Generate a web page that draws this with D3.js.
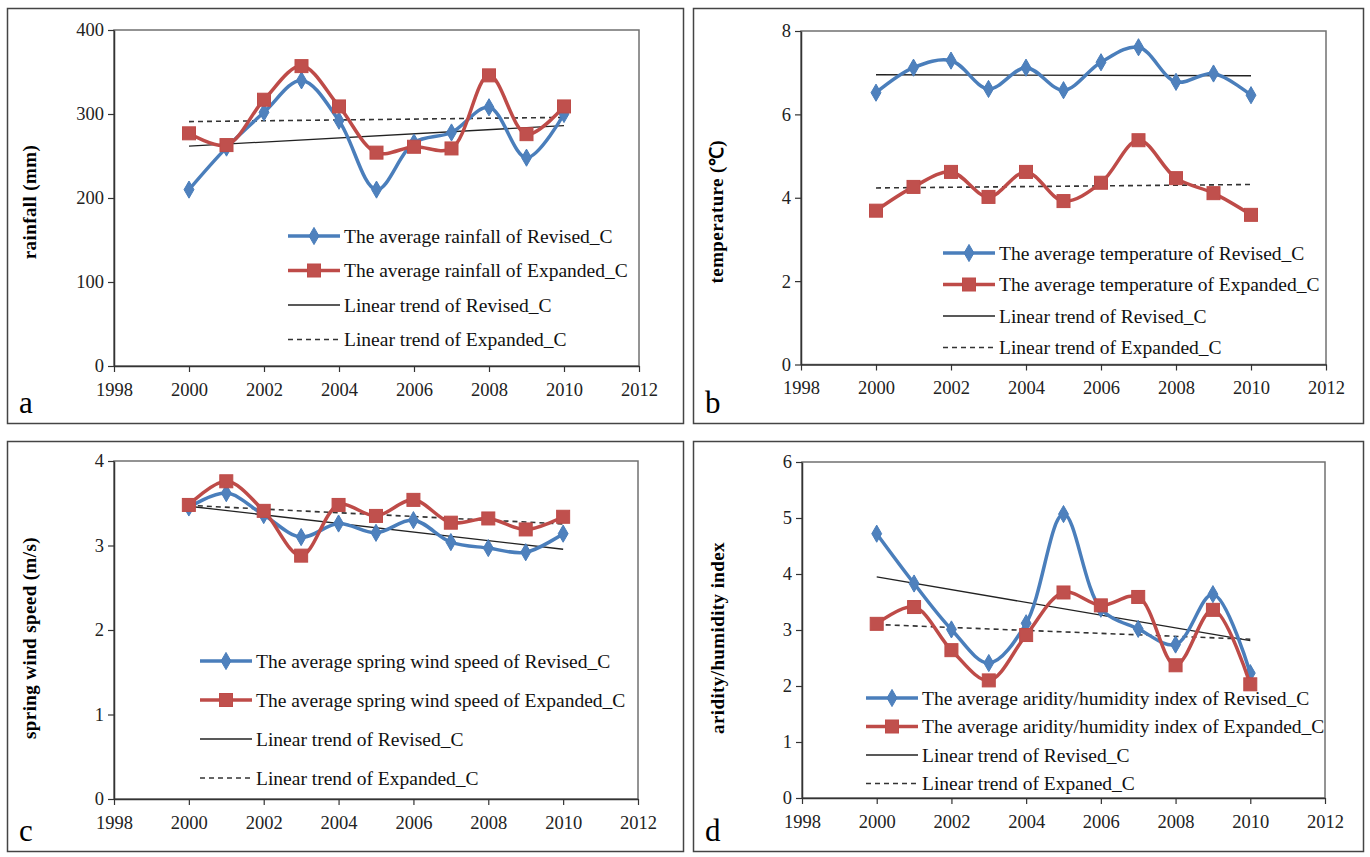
<!DOCTYPE html>
<html>
<head>
<meta charset="utf-8">
<script src="https://cdn.jsdelivr.net/npm/d3@7"></script>
<style>
  body { margin: 0; background: #fff; }
  svg, svg text { font-family: "Liberation Serif", "Times New Roman", serif; }
</style>
</head>
<body>
<script>
var years = [2000, 2001, 2002, 2003, 2004, 2005, 2006, 2007, 2008, 2009, 2010];
var xTicks = [1998, 2000, 2002, 2004, 2006, 2008, 2010, 2012];

// a - rainfall (mm)
var rainRevised  = [210, 260, 302, 340, 292, 210, 266, 278, 308, 248, 300];
var rainExpanded = [277, 263, 317, 357, 309, 254, 261, 259, 346, 276, 309];
// b - temperature
var tempRevised  = [6.52, 7.12, 7.29, 6.61, 7.12, 6.58, 7.25, 7.61, 6.78, 6.98, 6.46];
var tempExpanded = [3.69, 4.26, 4.62, 4.02, 4.62, 3.92, 4.36, 5.38, 4.47, 4.11, 3.59];
// c - spring wind speed
var windRevised  = [3.45, 3.62, 3.36, 3.10, 3.26, 3.15, 3.30, 3.04, 2.97, 2.92, 3.14];
var windExpanded = [3.48, 3.76, 3.41, 2.88, 3.48, 3.35, 3.54, 3.27, 3.32, 3.19, 3.34];
// d - aridity/humidity index
var aridRevised  = [4.72, 3.83, 3.01, 2.41, 3.12, 5.07, 3.38, 3.02, 2.74, 3.64, 2.23];
var aridExpanded = [3.11, 3.41, 2.64, 2.10, 2.91, 3.67, 3.44, 3.59, 2.37, 3.36, 2.03];

var blueLine = '#4a7ebb', blueFill = '#4f81bd';
var redLine = '#be4b48', redFill = '#c0504d';
var serif = '"Liberation Serif", "Times New Roman", serif';

var svg = d3.select('body').append('svg')
  .attr('width', 1370)
  .attr('height', 857);

var panels = [
  { tag: 'a', box: [7, 8, 683, 423], plot: [114, 30, 639, 366], yMax: 400, yStep: 100,
    yTitle: 'rainfall (mm)', titleDy: 4, rev: rainRevised, exp: rainExpanded,
    legend: { x: 288, y: 236, dy: 34.5 },
    names: ['The average rainfall of Revised_C', 'The average rainfall of Expanded_C',
            'Linear trend of Revised_C', 'Linear trend of Expanded_C'] },
  { tag: 'b', box: [693, 8, 1363, 423], plot: [801, 31, 1326, 364.5], yMax: 8, yStep: 2,
    yTitle: 'temperature (\u2103)', titleDy: 14, rev: tempRevised, exp: tempExpanded,
    legend: { x: 943, y: 253, dy: 31.5 },
    names: ['The average temperature of Revised_C', 'The average temperature of Expanded_C',
            'Linear trend of Revised_C', 'Linear trend of Expanded_C'] },
  { tag: 'c', box: [7, 441, 683, 851], plot: [114, 461, 638, 799], yMax: 4, yStep: 1,
    yTitle: 'spring wind speed (m/s)', titleDy: 8, rev: windRevised, exp: windExpanded,
    legend: { x: 200, y: 661, dy: 39 },
    names: ['The average spring wind speed of Revised_C', 'The average spring wind speed of Expanded_C',
            'Linear trend of Revised_C', 'Linear trend of Expanded_C'] },
  { tag: 'd', box: [693, 441, 1363, 851], plot: [802, 462, 1325, 798], yMax: 6, yStep: 1,
    yTitle: 'aridity/humidity index', titleDy: 8, rev: aridRevised, exp: aridExpanded,
    legend: { x: 866, y: 698, dy: 28.5 },
    names: ['The average aridity/humidity index of Revised_C', 'The average aridity/humidity index of Expanded_C',
            'Linear trend of Revised_C', 'Linear trend of Expaned_C'] }
];

// least squares fit, like the Excel trendline
var linearFit = function(xs, ys) {
  var mx = d3.mean(xs), my = d3.mean(ys);
  var sxy = d3.sum(xs, function(x, i) { return (x - mx) * (ys[i] - my); });
  var sxx = d3.sum(xs, function(x) { return (x - mx) * (x - mx); });
  var b = sxy / sxx;
  return function(x) { return my + b * (x - mx); };
};

var diamond = d3.symbol().type(d3.symbolDiamond).size(85);

var drawPanel = function(p) {
  var g = svg.append('g');
  g.append('rect')
    .attr('x', p.box[0] + 0.5).attr('y', p.box[1] + 0.5)
    .attr('width', p.box[2] - p.box[0]).attr('height', p.box[3] - p.box[1])
    .attr('fill', 'none').attr('stroke', '#444').attr('stroke-width', 1.5);

  var x = d3.scaleLinear().domain([1998, 2012]).range([p.plot[0], p.plot[2]]);
  var y = d3.scaleLinear().domain([0, p.yMax]).range([p.plot[3], p.plot[1]]);

  // plot frame (top/right)
  g.append('rect')
    .attr('x', p.plot[0]).attr('y', p.plot[1])
    .attr('width', p.plot[2] - p.plot[0]).attr('height', p.plot[3] - p.plot[1])
    .attr('fill', 'none').attr('stroke', '#707070').attr('stroke-width', 1.5);

  var xAxis = g.append('g')
    .attr('transform', 'translate(0,' + p.plot[3] + ')')
    .call(d3.axisBottom(x).tickValues(xTicks).tickFormat(d3.format('d')).tickSize(6).tickSizeOuter(0));
  var yAxis = g.append('g')
    .attr('transform', 'translate(' + p.plot[0] + ',0)')
    .call(d3.axisLeft(y).tickValues(d3.range(0, p.yMax + p.yStep / 2, p.yStep))
      .tickFormat(d3.format('d')).tickSize(6).tickSizeOuter(0));
  [xAxis, yAxis].forEach(function(ax) {
    ax.attr('font-family', serif).attr('font-size', 18.5);
    ax.select('.domain').attr('stroke', '#333').attr('stroke-width', 1.5);
    ax.selectAll('.tick line').attr('stroke', '#333').attr('stroke-width', 1.2);
    ax.selectAll('.tick text').attr('fill', '#222');
  });
  xAxis.selectAll('.tick text').attr('dy', '1.12em');
  yAxis.selectAll('.tick text').attr('x', -10);

  g.append('text')
    .attr('transform', 'translate(' + (p.plot[0] - 78) + ',' + ((p.plot[1] + p.plot[3]) / 2 + p.titleDy) + ') rotate(-90)')
    .attr('text-anchor', 'middle')
    .style('font-size', '19px').style('font-weight', 'bold')
    .style('letter-spacing', '0.4px')
    .text(p.yTitle);

  g.append('text')
    .attr('x', p.box[0] + 12).attr('y', p.box[3] - 10)
    .style('font-size', '31px')
    .text(p.tag);

  var line = d3.line()
    .x(function(d, i) { return x(years[i]); })
    .y(function(d) { return y(d); })
    .curve(d3.curveCatmullRom.alpha(0.5));

  // trend lines
  var fitRev = linearFit(years, p.rev);
  var fitExp = linearFit(years, p.exp);
  var x0 = years[0], x1 = years[years.length - 1];
  g.append('line')
    .attr('x1', x(x0)).attr('y1', y(fitRev(x0)))
    .attr('x2', x(x1)).attr('y2', y(fitRev(x1)))
    .attr('stroke', '#222').attr('stroke-width', 1.3);
  g.append('line')
    .attr('x1', x(x0)).attr('y1', y(fitExp(x0)))
    .attr('x2', x(x1)).attr('y2', y(fitExp(x1)))
    .attr('stroke', '#333').attr('stroke-width', 1.6).attr('stroke-dasharray', '5,4');

  // series
  g.append('path').datum(p.rev)
    .attr('d', line).attr('fill', 'none')
    .attr('stroke', blueLine).attr('stroke-width', 3.5);
  g.selectAll('.rev').data(p.rev).enter().append('path')
    .attr('class', 'rev')
    .attr('transform', function(d, i) { return 'translate(' + x(years[i]) + ',' + y(d) + ')'; })
    .attr('d', diamond)
    .attr('fill', blueFill).attr('stroke', blueLine);

  g.append('path').datum(p.exp)
    .attr('d', line).attr('fill', 'none')
    .attr('stroke', redLine).attr('stroke-width', 3.5);
  g.selectAll('.exp').data(p.exp).enter().append('rect')
    .attr('class', 'exp')
    .attr('x', function(d, i) { return x(years[i]) - 6.5; })
    .attr('y', function(d) { return y(d) - 6.5; })
    .attr('width', 13).attr('height', 13)
    .attr('fill', redFill).attr('stroke', redLine);

  // legend
  var lg = g.append('g').attr('transform', 'translate(' + p.legend.x + ',' + p.legend.y + ')');
  p.names.forEach(function(name, i) {
    var row = lg.append('g').attr('transform', 'translate(0,' + (i * p.legend.dy) + ')');
    var ln = row.append('line').attr('x1', 0).attr('x2', 52).attr('y1', 0).attr('y2', 0);
    if (i === 0) {
      ln.attr('stroke', blueLine).attr('stroke-width', 3.5);
      row.append('path').attr('transform', 'translate(26,0)').attr('d', diamond)
        .attr('fill', blueFill).attr('stroke', blueLine);
    } else if (i === 1) {
      ln.attr('stroke', redLine).attr('stroke-width', 3.5);
      row.append('rect').attr('x', 19.5).attr('y', -6.5).attr('width', 13).attr('height', 13)
        .attr('fill', redFill).attr('stroke', redLine);
    } else if (i === 2) {
      ln.attr('stroke', '#222').attr('stroke-width', 1.3);
    } else {
      ln.attr('stroke', '#333').attr('stroke-width', 1.6).attr('stroke-dasharray', '5,4');
    }
    row.append('text')
      .attr('x', 56).attr('y', 0).attr('dy', '0.35em')
      .style('font-size', '19.5px').attr('fill', '#111')
      .text(name);
  });
};

panels.forEach(drawPanel);
</script>
</body>
</html>
